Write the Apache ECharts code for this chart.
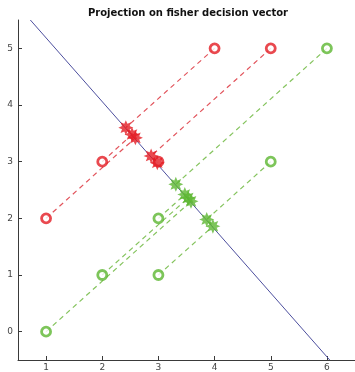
<!DOCTYPE html>
<html>
<head>
<meta charset="utf-8">
<script src="https://cdn.jsdelivr.net/npm/echarts@6/dist/echarts.min.js"></script>
<style>
  html, body { margin: 0; padding: 0; background: #fff; }
  #chart { width: 355px; height: 372px; }
</style>
</head>
<body>
<div id="chart"></div>
<script>
// Class 1 samples (red) and class 2 samples (green)
const redX = [1, 2, 3, 4, 5];
const redY = [2, 3, 3, 5, 5];
const greenX = [1, 2, 3, 3, 5, 6];
const greenY = [0, 1, 1, 2, 3, 5];

// Their projections onto the Fisher decision line (same order as the samples)
const redProjX = [2.59, 2.53, 2.98, 2.42, 2.87];
const redProjY = [3.42, 3.48, 2.98, 3.60, 3.10];
const greenProjX = [3.58, 3.53, 3.97, 3.47, 3.86, 3.31];
const greenProjY = [2.30, 2.36, 1.86, 2.42, 1.98, 2.60];

// Decision line end points
const lineX = [0.72, 6.05];
const lineY = [5.5, -0.5];

// Tick labels
const xTicks = [1, 2, 3, 4, 5, 6];
const yTicks = [0, 1, 2, 3, 4, 5];

const RED = '#e31b23';
const GREEN = '#5cb631';
const RED_DASH = '#e2545c';
const GREEN_DASH = '#86c45f';
const BLUE = '#4d4f9e';

// Spiky star marker
function starPath(points, inner) {
  let d = '';
  const n = points * 2;
  for (let i = 0; i < n; i++) {
    const r = i % 2 === 0 ? 1 : inner;
    const a = Math.PI * i / points - Math.PI / 2;
    const x = (r * Math.cos(a)).toFixed(3);
    const y = (r * Math.sin(a)).toFixed(3);
    d += (i === 0 ? 'M' : 'L') + x + ' ' + y + ' ';
  }
  return 'path://' + d + 'Z';
}
const STAR = starPath(8, 0.55);

function pairs(xs, ys) { return xs.map((x, i) => [x, ys[i]]); }

const series = [];

// Dashed projection segments
function addSegments(xs, ys, pxs, pys, color) {
  xs.forEach((x, i) => {
    series.push({
      type: 'line',
      data: [[x, ys[i]], [pxs[i], pys[i]]],
      symbol: 'none',
      silent: true,
      z: 1,
      lineStyle: { color: color, width: 1.2, type: [5, 4] }
    });
  });
}
addSegments(redX, redY, redProjX, redProjY, RED_DASH);
addSegments(greenX, greenY, greenProjX, greenProjY, GREEN_DASH);

// Decision line
series.push({
  type: 'line',
  data: pairs(lineX, lineY),
  symbol: 'none',
  z: 2,
  lineStyle: { color: BLUE, width: 1 }
});

// Samples as open circles
series.push({
  type: 'scatter',
  data: pairs(redX, redY),
  symbol: 'circle',
  symbolSize: 9,
  z: 3,
  itemStyle: { color: '#fff', borderColor: RED, borderWidth: 2.8 }
});
series.push({
  type: 'scatter',
  data: pairs(greenX, greenY),
  symbol: 'circle',
  symbolSize: 9,
  z: 3,
  itemStyle: { color: '#fff', borderColor: GREEN, borderWidth: 2.8 }
});

// Projections as stars
series.push({
  type: 'scatter',
  data: pairs(redProjX, redProjY),
  symbol: STAR,
  symbolSize: 15,
  z: 4,
  itemStyle: { color: RED }
});
series.push({
  type: 'scatter',
  data: pairs(greenProjX, greenProjY),
  symbol: STAR,
  symbolSize: 15,
  z: 4,
  itemStyle: { color: GREEN }
});

const axisCommon = {
  type: 'value',
  splitLine: { show: false },
  axisLine: { show: true, onZero: false, lineStyle: { color: '#3a3a3a', width: 1 } },
  axisTick: { show: true, inside: true, length: 4, lineStyle: { color: '#3a3a3a' } },
  axisLabel: { color: '#444', fontSize: 9, fontFamily: 'DejaVu Sans' }
};

const chart = echarts.init(document.getElementById('chart'), null, { renderer: 'canvas' });
chart.setOption({
  animation: false,
  backgroundColor: '#fff',
  title: {
    text: 'Projection on fisher decision vector',
    left: 183,
    top: 3,
    textAlign: 'center',
    textStyle: { fontFamily: 'DejaVu Sans', fontWeight: 'bold', fontSize: 10, color: '#111' }
  },
  grid: { left: 18, top: 20, width: 339, height: 340, containLabel: false },
  xAxis: Object.assign({}, axisCommon, {
    min: 0.5, max: 6.5,
    axisTick: Object.assign({}, axisCommon.axisTick, { customValues: xTicks }),
    axisLabel: Object.assign({}, axisCommon.axisLabel, { customValues: xTicks, margin: 3 })
  }),
  yAxis: Object.assign({}, axisCommon, {
    min: -0.5, max: 5.5,
    axisTick: Object.assign({}, axisCommon.axisTick, { customValues: yTicks }),
    axisLabel: Object.assign({}, axisCommon.axisLabel, { customValues: yTicks, margin: 5 })
  }),
  series: series
});
</script>
</body>
</html>
